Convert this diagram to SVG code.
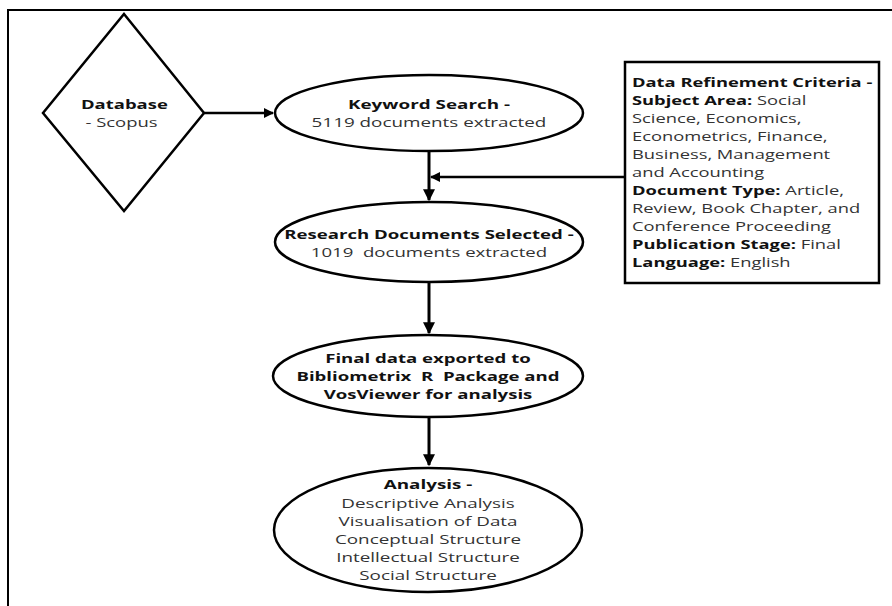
<svg xmlns="http://www.w3.org/2000/svg" width="892" height="606" viewBox="0 0 892 606">
<style>
.shape{fill:#fff;stroke:#000;stroke-width:2.5}
.t{font-family:"Open Sans","Liberation Sans",sans-serif;font-size:13px;fill:#333;text-anchor:middle;dominant-baseline:central}
.b{font-weight:bold;fill:#111}
.l{text-anchor:start}
.c{fill:none;stroke:#000;stroke-width:3}
.h{fill:none;stroke:#000;stroke-width:2.5}
</style>
<defs>
<marker id="ah" viewBox="0 0 10 10" refX="9" refY="5" markerWidth="4" markerHeight="4" orient="auto" markerUnits="strokeWidth">
<path d="M0,0 L10,5 L0,10 Z" fill="#000"/>
</marker>
</defs>
<rect x="0" y="0" width="892" height="606" fill="#fff"/>
<path d="M8,606 V10 H892" fill="none" stroke="#000" stroke-width="2"/>
<g id="connectors">
<line class="h" x1="204" y1="113" x2="273" y2="113" marker-end="url(#ah)"/>
<line class="c" x1="429" y1="151" x2="429" y2="200" marker-end="url(#ah)"/>
<line class="h" x1="625" y1="177" x2="431" y2="177" marker-end="url(#ah)"/>
<line class="c" x1="429" y1="283" x2="429" y2="333" marker-end="url(#ah)"/>
<line class="c" x1="429" y1="417" x2="429" y2="465" marker-end="url(#ah)"/>
</g>
<g id="database">
<polygon class="shape" points="124,14 204,113 124,211 43,113"/>
<g transform="matrix(1.42 0 0 1 -51.7 0)">
<text class="t b" x="124" y="104">Database</text>
<text class="t" x="122" y="122">- Scopus</text>
</g>
</g>
<g id="keyword">
<ellipse class="shape" cx="429" cy="113" rx="154" ry="38"/>
<g transform="matrix(1.45 0 0 1 -193.05 0)">
<text class="t b" x="429" y="104">Keyword Search -</text>
<text class="t" x="429" y="122">5119 documents extracted</text>
</g>
</g>
<g id="research">
<ellipse class="shape" cx="429" cy="242" rx="154" ry="40"/>
<g transform="matrix(1.43 0 0 1 -184.47 0)">
<text class="t b" x="429" y="234">Research Documents Selected -</text>
<text class="t" x="429" y="252" xml:space="preserve">1019  documents extracted</text>
</g>
</g>
<g id="criteria">
<rect class="shape" x="625" y="62" width="254" height="221"/>
<g transform="matrix(1.41 0 0 1 -259.12 0)">
<text class="t l" x="632">
<tspan class="b" x="632" y="82">Data Refinement Criteria -</tspan>
<tspan x="632" y="100"><tspan class="b">Subject Area:</tspan> Social</tspan>
<tspan x="632" y="118">Science, Economics,</tspan>
<tspan x="632" y="136">Econometrics, Finance,</tspan>
<tspan x="632" y="154">Business, Management</tspan>
<tspan x="632" y="172">and Accounting</tspan>
<tspan x="632" y="190"><tspan class="b">Document Type:</tspan> Article,</tspan>
<tspan x="632" y="208">Review, Book Chapter, and</tspan>
<tspan x="632" y="226">Conference Proceeding</tspan>
<tspan x="632" y="244"><tspan class="b">Publication Stage:</tspan> Final</tspan>
<tspan x="632" y="262"><tspan class="b">Language:</tspan> English</tspan>
</text>
</g>
</g>
<g id="final">
<ellipse class="shape" cx="428" cy="376" rx="155" ry="41"/>
<g transform="matrix(1.43 0 0 1 -184.04 0)">
<text class="t b" x="428" y="358">Final data exported to</text>
<text class="t b" x="428" y="376" xml:space="preserve">Bibliometrix  R  Package and</text>
<text class="t b" x="428" y="394">VosViewer for analysis</text>
</g>
</g>
<g id="analysis">
<ellipse class="shape" cx="428" cy="530" rx="154" ry="62"/>
<g transform="matrix(1.45 0 0 1 -192.6 0)">
<text class="t b" x="428" y="484">Analysis -</text>
<text class="t" x="428" y="503">Descriptive Analysis</text>
<text class="t" x="428" y="521">Visualisation of Data</text>
<text class="t" x="428" y="539">Conceptual Structure</text>
<text class="t" x="428" y="557">Intellectual Structure</text>
<text class="t" x="428" y="575">Social Structure</text>
</g>
</g>
</svg>
